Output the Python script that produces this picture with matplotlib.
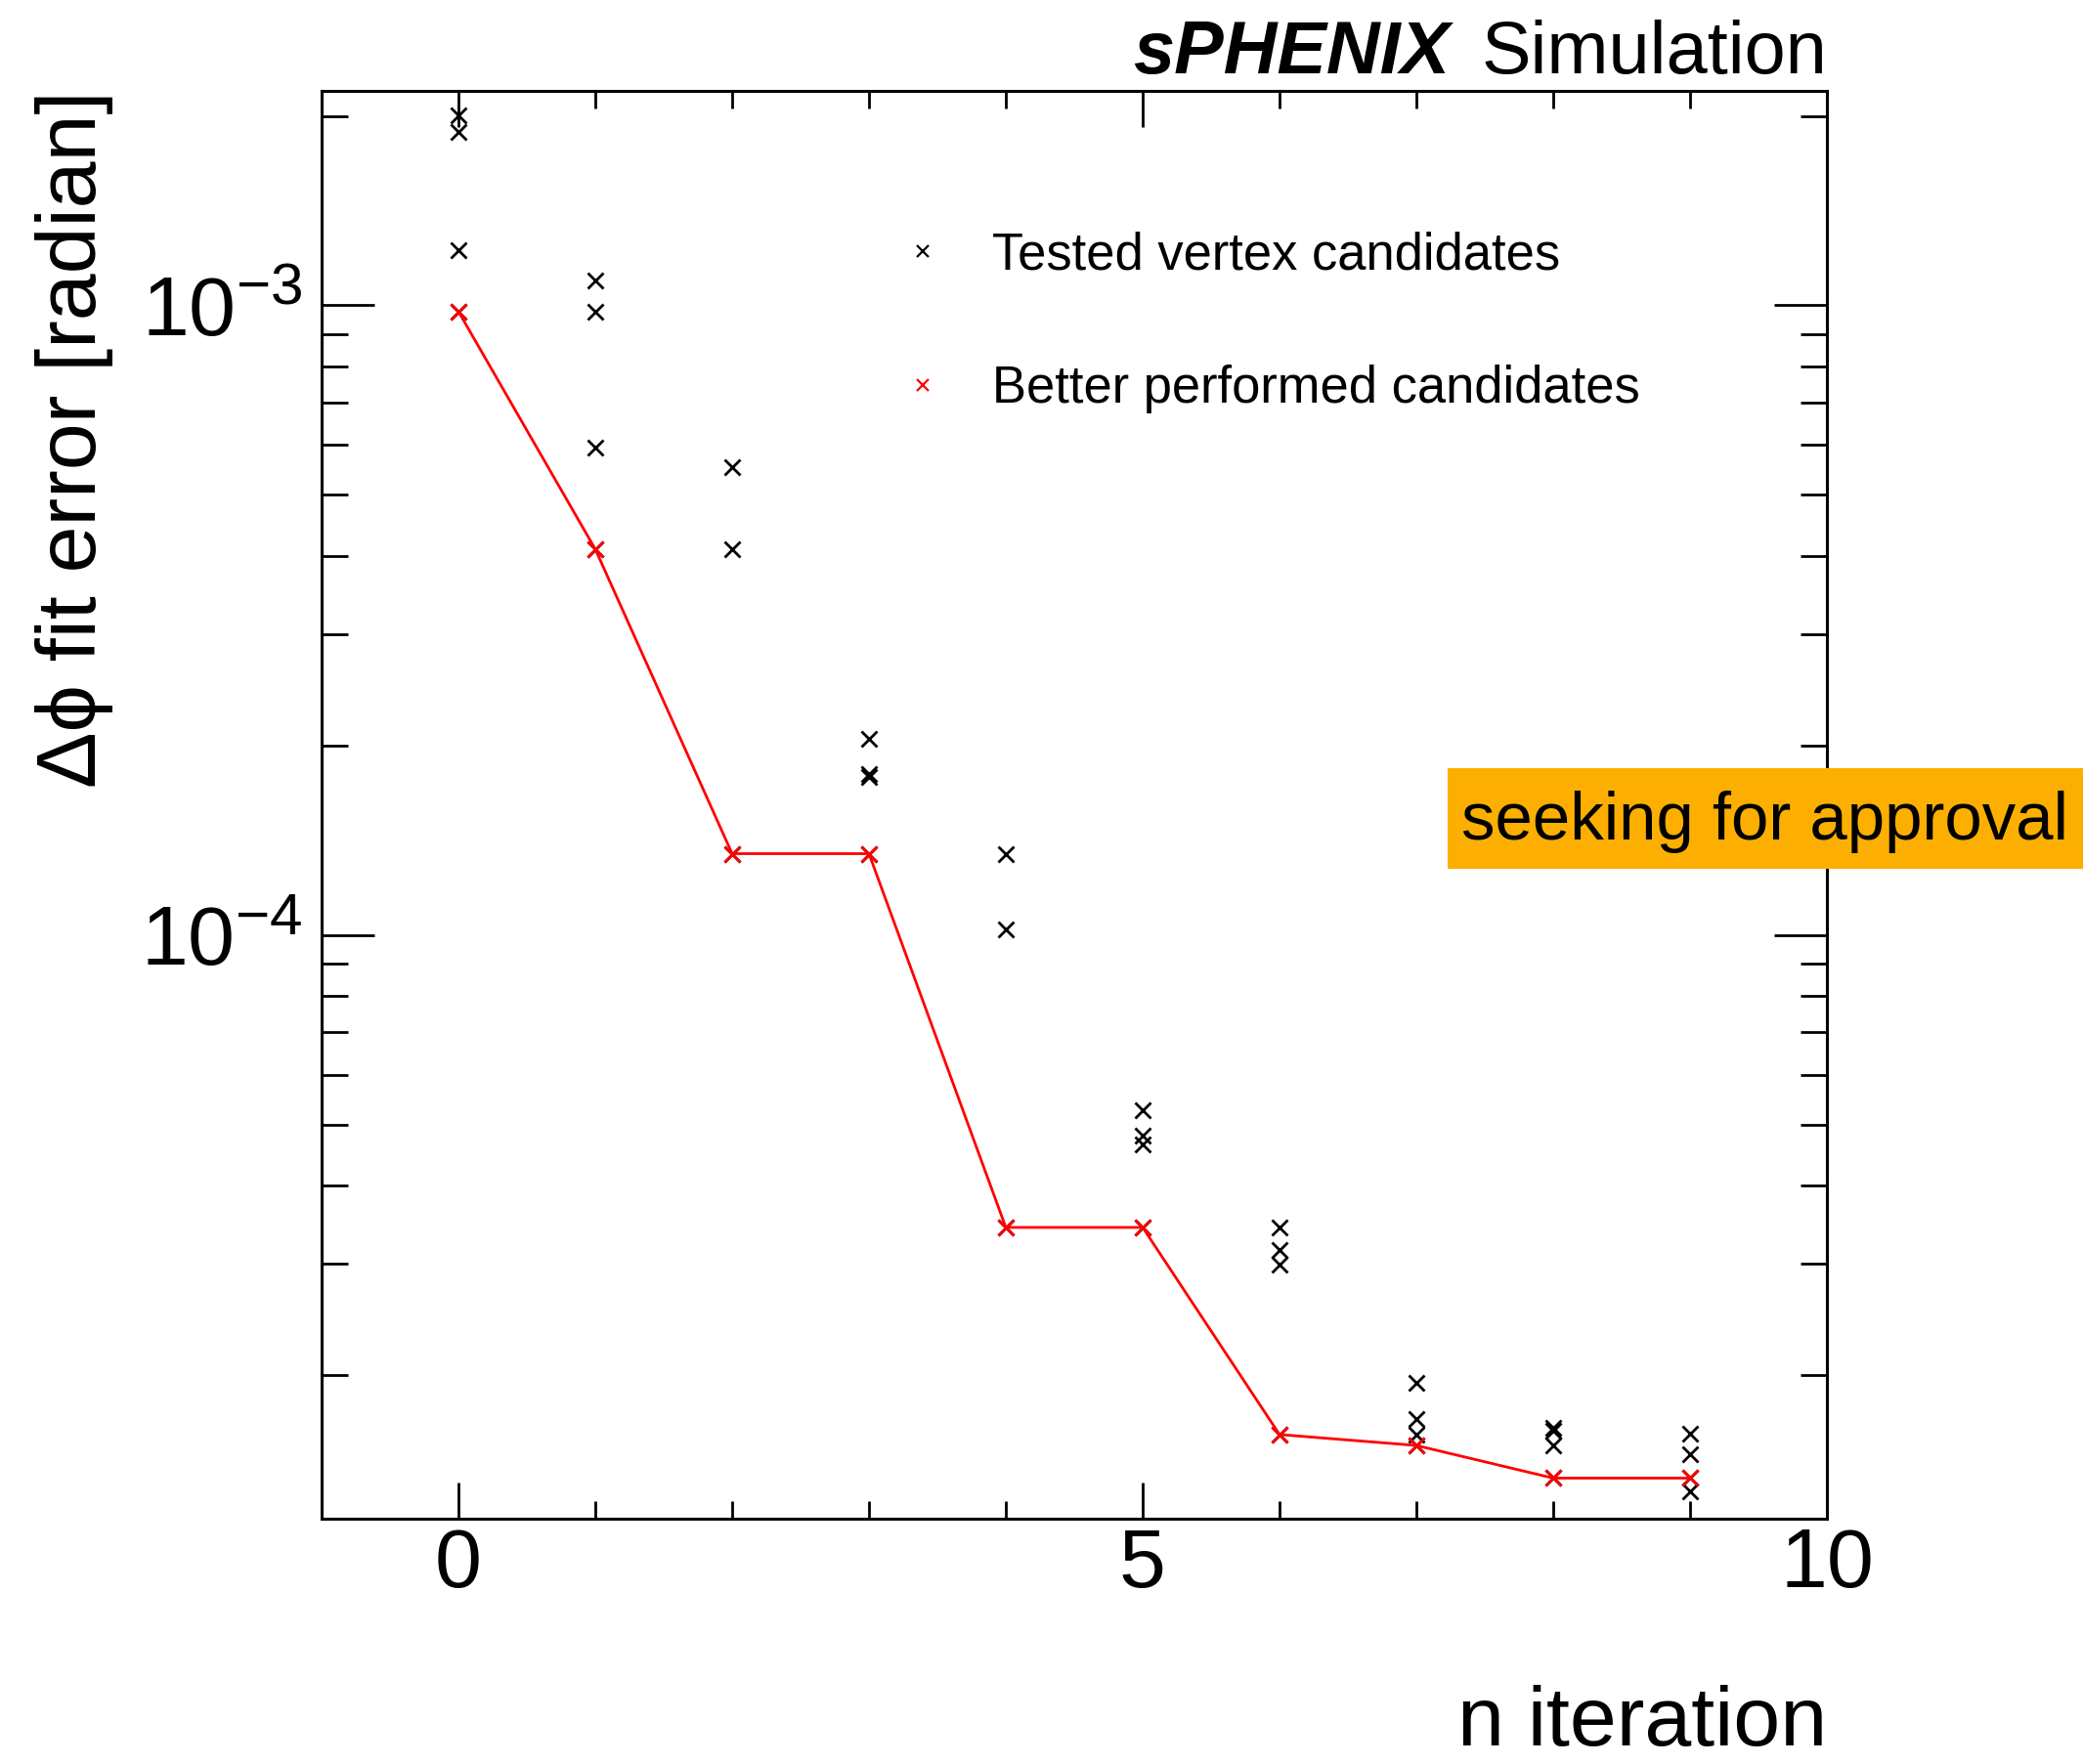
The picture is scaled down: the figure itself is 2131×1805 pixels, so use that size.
import math
import matplotlib
matplotlib.use("Agg")
import matplotlib.pyplot as plt
from matplotlib.lines import Line2D
from matplotlib.patches import Rectangle
from matplotlib.ticker import LogLocator, MultipleLocator, FuncFormatter, NullFormatter

# ========== DATA ==========
# every tested candidate per iteration (x = iteration, y = delta phi fit error)
tested_iter = [0, 0, 0, 0,
               1, 1, 1, 1,
               2, 2, 2,
               3, 3, 3, 3,
               4, 4, 4,
               5, 5, 5, 5,
               6, 6, 6, 6,
               7, 7, 7, 7,
               8, 8, 8, 8,
               9, 9, 9, 9]
tested_err = [2.006e-3, 1.887e-3, 1.224e-3, 9.78e-4,
              1.095e-3, 9.78e-4, 5.94e-4, 4.10e-4,
              5.54e-4, 4.10e-4, 1.346e-4,
              2.05e-4, 1.803e-4, 1.781e-4, 1.346e-4,
              1.346e-4, 1.02e-4, 3.43e-5,
              5.26e-5, 4.80e-5, 4.65e-5, 3.43e-5,
              3.43e-5, 3.16e-5, 2.99e-5, 1.608e-5,
              1.941e-5, 1.70e-5, 1.608e-5, 1.545e-5,
              1.65e-5, 1.632e-5, 1.545e-5, 1.371e-5,
              1.614e-5, 1.498e-5, 1.371e-5, 1.307e-5]

best_iter = [0, 1, 2, 3, 4, 5, 6, 7, 8, 9]
best_err = [9.78e-4, 4.10e-4, 1.346e-4, 1.346e-4, 3.43e-5,
            3.43e-5, 1.608e-5, 1.545e-5, 1.371e-5, 1.371e-5]

legend_labels = ["Tested vertex candidates", "Better performed candidates"]

# ========== STYLE ==========
plt.rcParams["font.family"] = ["Liberation Sans", "DejaVu Sans"]
plt.rcParams["mathtext.fontset"] = "custom"
plt.rcParams["mathtext.rm"] = "Liberation Sans"
plt.rcParams["mathtext.it"] = "Liberation Sans:italic"
plt.rcParams["mathtext.bf"] = "Liberation Sans:bold"

W, H = 2131, 1805
fig = plt.figure(figsize=(W / 100, H / 100), dpi=100)
ax = fig.add_axes([329 / W, 1 - 1553.5 / H, 1540 / W, 1460.8 / H])

ax.plot(tested_iter, tested_err, ls="none", marker="x", color="black",
        markersize=11, markeredgewidth=2.0)
ax.plot(best_iter, best_err, ls="-", lw=2.0, color="red")
ax.plot(best_iter, best_err, ls="none", marker="x", color="red",
        markersize=11, markeredgewidth=2.0)

ax.set_yscale("log")
ax.set_xlim(-1, 10)
ax.set_ylim(1.184e-5, 2.194e-3)

ax.xaxis.set_major_locator(MultipleLocator(5))
ax.xaxis.set_minor_locator(MultipleLocator(1))
ax.yaxis.set_major_locator(LogLocator(base=10))
ax.yaxis.set_minor_locator(LogLocator(base=10, subs=range(2, 10)))
ax.yaxis.set_major_formatter(FuncFormatter(lambda v, p: r"$10^{%d}$" % round(math.log10(v))))
ax.yaxis.set_minor_formatter(NullFormatter())

for s in ax.spines.values():
    s.set_linewidth(2.2)
ax.tick_params(which="both", direction="in", top=True, right=True, width=2.0)
ax.tick_params(axis="x", which="major", length=26.6, labelsize=62, pad=6)
ax.tick_params(axis="x", which="minor", length=13)
ax.tick_params(axis="y", which="major", length=39, labelsize=62, pad=14)
ax.tick_params(axis="y", which="minor", length=19.4)

# axis titles (ROOT style: aligned to axis end)
ax.set_xlabel("n iteration", fontsize=62, ha="right", va="baseline")
ax.xaxis.set_label_coords(1.0, -0.159)
ax.set_ylabel("\u0394\u03d5 fit error [radian]", fontsize=62, ha="right", va="baseline",
              rotation=90, rotation_mode="anchor")
ax.yaxis.set_label_coords(-0.15, 1.0)

# legend
handles = [Line2D([], [], ls="none", marker="x", color="black", markersize=8, markeredgewidth=1.6),
           Line2D([], [], ls="none", marker="x", color="red", markersize=8, markeredgewidth=1.6)]
ax.legend(handles, legend_labels, loc="upper left", bbox_to_anchor=(0.382, 0.9015),
          frameon=False, fontsize=37.8, handlelength=1.0, handletextpad=0.87,
          labelspacing=1.65, borderpad=0, borderaxespad=0, numpoints=1)

# header
fig.text(1869 / W, 1 - 75 / H, "Simulation", fontsize=54.5, ha="right", va="baseline")
fig.text(1483 / W, 1 - 75 / H, "sPHENIX", fontsize=54.5, ha="right", va="baseline",
         fontweight="bold", fontstyle="italic")

# approval tag
fig.patches.append(Rectangle((1481 / W, 1 - 889 / H), (W - 1481) / W, 103 / H,
                             transform=fig.transFigure, facecolor="#fcaf00",
                             edgecolor="none", zorder=5))
fig.text(1495 / W, 1 - 859 / H, "seeking for approval", fontsize=49.7,
         ha="left", va="baseline", zorder=6)

fig.savefig("out.png", dpi=100)
